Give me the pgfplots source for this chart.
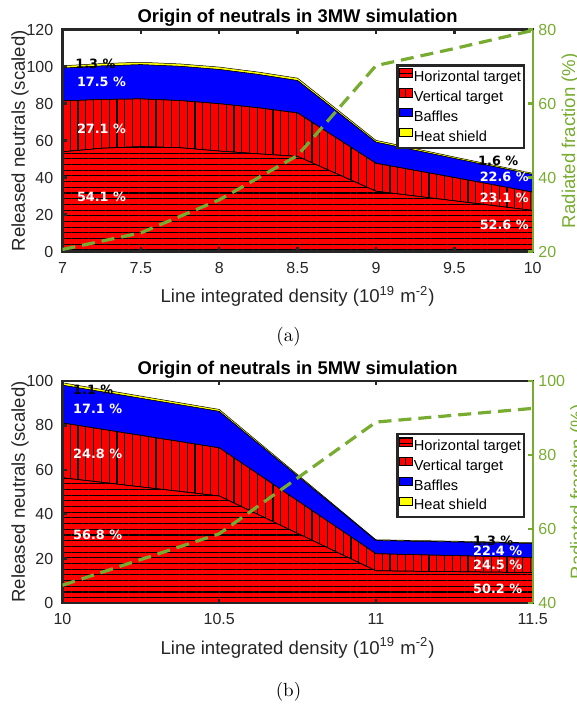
\documentclass[border=0pt]{standalone}
\usepackage{pgfplots}
\pgfplotsset{compat=1.18}
\usepackage{fontspec}
\usetikzlibrary{patterns.meta}
\newfontfamily\arial{Liberation Sans}
\newfontfamily\dejavu{DejaVu Sans}
\definecolor{axgray}{HTML}{262626}
\definecolor{mgreen}{HTML}{77AC30}
\definecolor{mred}{RGB}{255,0,0}
\definecolor{mblue}{RGB}{0,0,255}
\definecolor{myellow}{RGB}{255,255,0}

\tikzset{pct/.style={anchor=west, inner sep=0pt, font=\dejavu\bfseries\fontsize{6.4}{7}\selectfont}}
\pgfplotsset{
  hstyle/.style={fill=mred, draw=black, line width=0.25pt,
    postaction={pattern={Lines[angle=0,distance=2.85pt,line width=0.55pt]}, pattern color=black}},
  vstyle/.style={fill=mred, draw=black, line width=0.25pt,
    postaction={pattern={Lines[angle=90,distance=3.9pt,line width=0.55pt]}, pattern color=black}},
  bstyle/.style={fill=mblue, draw=black, line width=0.25pt},
  sstyle/.style={fill=myellow, draw=black, line width=0.25pt},
  leftax/.style={
    scale only axis, width=235.1pt, height=111pt,
    axis on top,
    axis line style={axgray, line width=1.2pt},
    tick style={axgray, line width=1.2pt},
    major tick length=2.2pt,
    tick align=inside,
    xtick pos=both, ytick pos=left,
    ticklabel style={font=\arial\fontsize{8}{9}\selectfont, text=axgray},
    /pgf/number format/assume math mode=true,
    label style={font=\arial\fontsize{9.3}{11}\selectfont, text=axgray},
    every axis title/.style={font=\arial\bfseries\fontsize{9.2}{11}\selectfont, text=black,
      at={(0.5,1)}, anchor=base, yshift=3.4pt},
    xlabel style={at={(axis description cs:0.5,0)}, anchor=base, yshift=-25.5pt},
    ylabel style={at={([xshift=-18.75pt]axis description cs:0,0.5)}, anchor=base},
    xticklabel shift=1.8pt, yticklabel shift=1.1pt,
    stack plots=y,
    legend style={anchor=north west, draw=axgray, line width=1.2pt, fill=white,
      font=\arial\fontsize{7.3}{8}\selectfont, inner xsep=1pt, inner ysep=1.5pt,
      row sep=1.2pt, column sep=0pt, nodes={inner sep=0.6pt}, cells={anchor=west}},
    legend image code/.code={\draw[##1] (0pt,0.4pt) rectangle (6.4pt,4.6pt);},
  },
  rightax/.style={
    scale only axis, width=235.1pt, height=111pt,
    axis x line=none, axis y line*=right,
    axis line style={mgreen, line width=1.2pt},
    tick style={mgreen, line width=1.2pt},
    major tick length=2.2pt, tick align=inside,
    ticklabel style={font=\arial\fontsize{8}{9}\selectfont, text=mgreen},
    /pgf/number format/assume math mode=true,
    yticklabel shift=-0.7pt,
    label style={font=\arial\fontsize{9.3}{11}\selectfont, text=mgreen},
  },
}

\begin{document}
\begin{tikzpicture}
% ---------------- (a) 3MW ----------------
\begin{axis}[leftax, at={(0pt,0pt)}, anchor=south west,
  xmin=7, xmax=10, ymin=0, ymax=120,
  xtick={7,7.5,8,8.5,9,9.5,10}, ytick={0,20,40,60,80,100,120},
  title={Origin of neutrals in 3MW simulation},
  xlabel={Line integrated density (10\textsuperscript{19} m\textsuperscript{-2})},
  ylabel={Released neutrals (scaled)},
  legend style={at={(0.7096,0.845)}}]
\addplot[hstyle] coordinates {(7,54.0) (7.25,55.9) (7.5,56.8) (7.75,56.2) (8,54.4) (8.25,52.9) (8.5,51.5) (9,32.7) (9.5,27.5) (10,22.3)} \closedcycle;
\addplot[vstyle] coordinates {(7,27.5) (7.25,26.4) (7.5,25.8) (7.75,25.5) (8,25.6) (8.25,24.9) (8.5,23.5) (9,15.1) (9.5,12.6) (10,9.9)} \closedcycle;
\addplot[bstyle] coordinates {(7,17.7) (7.25,18.1) (7.5,18.5) (7.75,18.5) (8,18.5) (8.25,18.0) (8.5,17.5) (9,11.4) (9.5,10.3) (10,9.5)} \closedcycle;
\addplot[sstyle] coordinates {(7,1.3) (7.25,1.3) (7.5,1.3) (7.75,1.3) (8,1.3) (8.25,1.3) (8.5,1.3) (9,1.0) (9.5,0.8) (10,0.7)} \closedcycle;
\legend{Horizontal target, Vertical target, Baffles, Heat shield}
\end{axis}
\begin{axis}[rightax, at={(0pt,0pt)}, anchor=south west,
  xmin=7, xmax=10, ymin=20, ymax=80, ytick={20,40,60,80},
  ylabel={Radiated fraction (\%)},
  ylabel style={at={([xshift=21.2pt]axis description cs:1,0.5)}, anchor=base}]
\addplot[mgreen, line width=1.6pt, dash pattern=on 6.5pt off 3.5pt] coordinates {(7,20.6) (7.5,25.1) (8,34) (8.5,46) (9,70.3) (9.5,74.9) (10,79.8)};
% percentage labels (right-axis units: 20 + 0.5*left value)
\node[pct, text=black] at (axis cs:7.08,70.9) {1.3 \%};
\node[pct, text=white] at (axis cs:7.09,65.8) {17.5 \%};
\node[pct, text=white] at (axis cs:7.09,53.15) {27.1 \%};
\node[pct, text=white] at (axis cs:7.09,34.7) {54.1 \%};
\node[pct, text=black] at (axis cs:9.65,44.6) {1.6 \%};
\node[pct, text=white] at (axis cs:9.66,40.25) {22.6 \%};
\node[pct, text=white] at (axis cs:9.66,34.6) {23.1 \%};
\node[pct, text=white] at (axis cs:9.66,27.2) {52.6 \%};
\end{axis}
\node[font=\fontsize{9.5}{11}\selectfont] at (113pt,-42.65pt) {(a)};

% ---------------- (b) 5MW ----------------
\begin{axis}[leftax, at={(0pt,-175.65pt)}, anchor=south west,
  xmin=10, xmax=11.5, ymin=0, ymax=100,
  xtick={10,10.5,11,11.5}, ytick={0,20,40,60,80,100},
  title={Origin of neutrals in 5MW simulation},
  xlabel={Line integrated density (10\textsuperscript{19} m\textsuperscript{-2})},
  ylabel={Released neutrals (scaled)},
  legend style={at={(0.7096,0.766)}}]
\addplot[hstyle] coordinates {(10,56.4) (10.5,48.2) (11,14.5) (11.5,13.7)} \closedcycle;
\addplot[vstyle] coordinates {(10,24.7) (10.5,21.7) (11,7.7) (11.5,6.8)} \closedcycle;
\addplot[bstyle] coordinates {(10,17.0) (10.5,16.4) (11,5.9) (11.5,6.3)} \closedcycle;
\addplot[sstyle] coordinates {(10,1.1) (10.5,0.9) (11,0.4) (11.5,0.4)} \closedcycle;
\legend{Horizontal target, Vertical target, Baffles, Heat shield}
\end{axis}
\begin{axis}[rightax, at={(0pt,-175.65pt)}, anchor=south west,
  xmin=10, xmax=11.5, ymin=40, ymax=100, ytick={40,60,80,100},
  ylabel={Radiated fraction (\%)},
  ylabel style={at={([xshift=25.5pt]axis description cs:1,0.5)}, anchor=base}]
\addplot[mgreen, line width=1.6pt, dash pattern=on 6.5pt off 3.5pt] coordinates {(10,44.8) (10.5,58.7) (11,88.9) (11.5,92.6)};
% percentage labels (right-axis units: 40 + 0.6*left value)
\node[pct, text=black] at (axis cs:10.033,97.6) {1.1 \%};
\node[pct, text=white] at (axis cs:10.033,92.44) {17.1 \%};
\node[pct, text=white] at (axis cs:10.033,80.38) {24.8 \%};
\node[pct, text=white] at (axis cs:10.033,58.3) {56.8 \%};
\node[pct, text=black] at (axis cs:11.309,56.92) {1.3 \%};
\node[pct, text=white] at (axis cs:11.309,54.04) {22.4 \%};
\node[pct, text=white] at (axis cs:11.309,50.2) {24.5 \%};
\node[pct, text=white] at (axis cs:11.309,43.72) {50.2 \%};
\end{axis}
\node[font=\fontsize{9.5}{11}\selectfont] at (113pt,-220.15pt) {(b)};

\pgfresetboundingbox
\useasboundingbox (-31.25pt,-227.15pt) rectangle (257.25pt,125.85pt);
\end{tikzpicture}
\end{document}
